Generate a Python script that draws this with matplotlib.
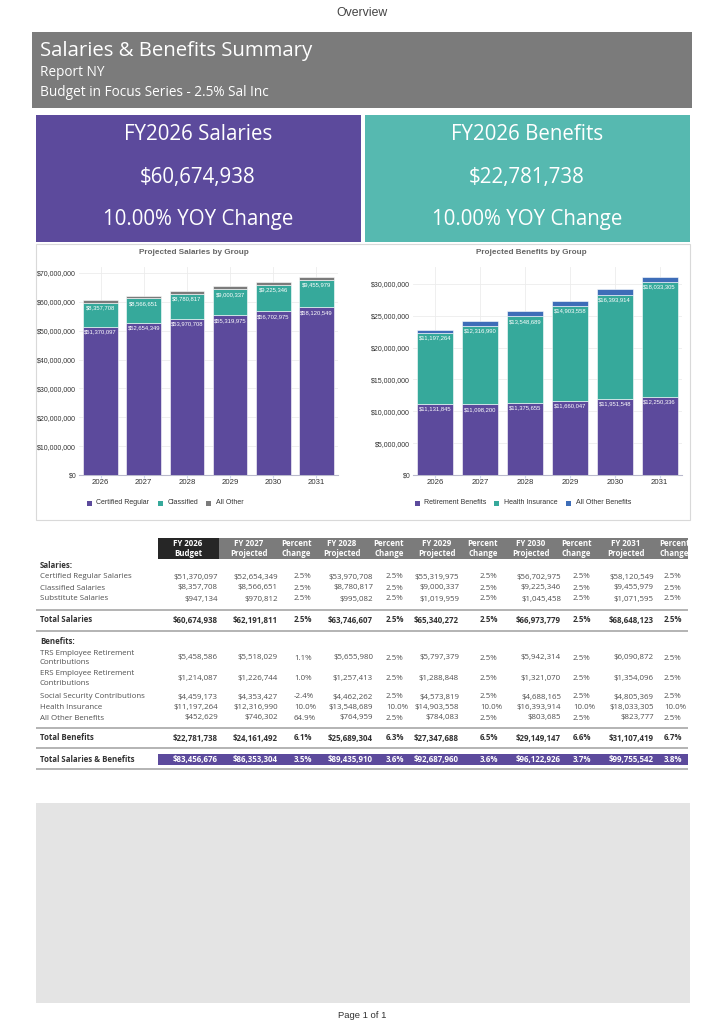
import matplotlib.pyplot as plt
from matplotlib.patches import Rectangle
from matplotlib.ticker import FuncFormatter

# ---- data ----
years = ['2026', '2027', '2028', '2029', '2030', '2031']

salary_groups = ['Certified Regular', 'Classified', 'All Other']
certified = [51370097, 52654349, 53970708, 55319975, 56702975, 58120549]
classified = [8357708, 8566651, 8780817, 9000337, 9225346, 9455979]
substitute = [947134, 970812, 995082, 1019959, 1045458, 1071595]

benefit_groups = ['Retirement Benefits', 'Health Insurance', 'All Other Benefits']
retirement = [11131845, 11098200, 11375655, 11660047, 11951548, 12250336]
health = [11197264, 12316990, 13548689, 14903558, 16393914, 18033305]
other_benefits = [452629, 746302, 764959, 784083, 803685, 823777]

trs = [5458586, 5518029, 5655980, 5797379, 5942314, 6090872]
ers = [1214087, 1226744, 1257413, 1288848, 1321070, 1354096]
social = [4459173, 4353427, 4462262, 4573819, 4688165, 4805369]

total_salaries = [60674938, 62191811, 63746607, 65340272, 66973779, 68648123]
total_benefits = [22781738, 24161492, 25689304, 27347688, 29149147, 31107419]
grand_total = [83456676, 86353304, 89435910, 92687960, 96122926, 99755542]

certified_pct = ['2.5%', '2.5%', '2.5%', '2.5%', '2.5%']
classified_pct = ['2.5%', '2.5%', '2.5%', '2.5%', '2.5%']
substitute_pct = ['2.5%', '2.5%', '2.5%', '2.5%', '2.5%']
total_sal_pct = ['2.5%', '2.5%', '2.5%', '2.5%', '2.5%']
trs_pct = ['1.1%', '2.5%', '2.5%', '2.5%', '2.5%']
ers_pct = ['1.0%', '2.5%', '2.5%', '2.5%', '2.5%']
social_pct = ['-2.4%', '2.5%', '2.5%', '2.5%', '2.5%']
health_pct = ['10.0%', '10.0%', '10.0%', '10.0%', '10.0%']
other_pct = ['64.9%', '2.5%', '2.5%', '2.5%', '2.5%']
total_ben_pct = ['6.1%', '6.3%', '6.5%', '6.6%', '6.7%']
grand_pct = ['3.5%', '3.6%', '3.6%', '3.7%', '3.8%']

col_headers = [('FY 2026', 'Budget'), ('FY 2027', 'Projected'), ('Percent', 'Change'),
               ('FY 2028', 'Projected'), ('Percent', 'Change'), ('FY 2029', 'Projected'),
               ('Percent', 'Change'), ('FY 2030', 'Projected'), ('Percent', 'Change'),
               ('FY 2031', 'Projected'), ('Percent', 'Change')]

# ---- colours ----
PURPLE = '#5c4a9c'
TEAL_BOX = '#56b9b0'
TEAL = '#36a99b'
GRAY = '#7b7b7b'
BLUE = '#3e6db8'

plt.rcParams['font.family'] = ['Open Sans', 'DejaVu Sans']
CHART_FONT = ['Liberation Sans', 'DejaVu Sans']

W, H = 724, 1024
fig = plt.figure(figsize=(7.24, 10.24), dpi=100)
bg = fig.add_axes([0, 0, 1, 1])
bg.set_xlim(0, W)
bg.set_ylim(H, 0)
bg.axis('off')


def box(x0, y0, x1, y1, color, **kw):
    bg.add_patch(Rectangle((x0, y0), x1 - x0, y1 - y0, facecolor=color,
                           edgecolor=kw.pop('edgecolor', 'none'), **kw))


def money(v):
    return f"${v:,}"


# ---- header ----
bg.text(362, 13, 'Overview', ha='center', va='center', fontsize=8.8, color='#444444',
        family=CHART_FONT)
box(32, 32, 692, 108, GRAY)
bg.text(40, 51, 'Salaries & Benefits Summary', fontsize=14.7, color='white', va='center')
bg.text(40, 73, 'Report NY', fontsize=9.8, color='white', va='center')
bg.text(40, 93, 'Budget in Focus Series - 2.5% Sal Inc', fontsize=9.8, color='white', va='center')

# ---- KPI boxes ----
box(36, 115, 361, 242, PURPLE)
box(365, 115, 690, 242, TEAL_BOX)
for cx, title, val in [(198, 'FY2026 Salaries', total_salaries[0]),
                       (527, 'FY2026 Benefits', total_benefits[0])]:
    bg.text(cx, 134, title, ha='center', va='center', fontsize=14.8, color='white')
    bg.text(cx, 177, money(val), ha='center', va='center', fontsize=14.8, color='white')
    bg.text(cx, 219, '10.00% YOY Change', ha='center', va='center', fontsize=14.8, color='white')

# ---- charts ----
box(36, 244, 690, 520, 'white', edgecolor='#d9d9d9', linewidth=0.8)


def chart_axes(x0, y0, x1, y1):
    return fig.add_axes([x0 / W, 1 - y1 / H, (x1 - x0) / W, (y1 - y0) / H])


def stacked_chart(ax, series, colors, labelled, ymax, step):
    x = list(range(len(years)))
    bottoms = [0] * len(years)
    for vals, col, lab in zip(series, colors, labelled):
        ax.bar(x, vals, width=0.8, bottom=bottoms, color=col, edgecolor='white',
               linewidth=0.4, zorder=3)
        tops = [b + v for b, v in zip(bottoms, vals)]
        if lab:
            for xi, t, v in zip(x, tops, vals):
                ax.annotate(money(v), (xi, t), xytext=(0, -3.6), textcoords='offset points',
                            ha='center', va='center', fontsize=4.2, color='white',
                            family=CHART_FONT, zorder=4)
        bottoms = tops
    ax.set_xlim(-0.5, len(years) - 0.5)
    ax.set_ylim(0, ymax)
    ax.set_yticks(range(0, int(ymax) + 1, step))
    ax.yaxis.set_major_formatter(FuncFormatter(lambda v, _: f"${v:,.0f}"))
    ax.set_xticks(x)
    ax.set_xticklabels(years, family=CHART_FONT)
    for lbl in ax.get_yticklabels():
        lbl.set_family(CHART_FONT)
    ax.tick_params(axis='y', length=0, labelsize=5.0, labelcolor='#333333', pad=2)
    ax.tick_params(axis='x', length=2, color='#ccd6eb', labelsize=5.6, labelcolor='#333333', pad=1)
    ax.grid(True, color='#ececec', linewidth=0.6, zorder=0)
    ax.set_axisbelow(True)
    for s in ['top', 'right', 'left']:
        ax.spines[s].set_visible(False)
    ax.spines['bottom'].set_color('#b9b9cc')
    ax.spines['bottom'].set_linewidth(0.8)


ax1 = chart_axes(79, 267, 338, 475)
stacked_chart(ax1, [certified, classified, substitute], [PURPLE, TEAL, GRAY],
              [True, True, False], 72.08e6, 10000000)
ax2 = chart_axes(413, 267, 682, 475)
stacked_chart(ax2, [retirement, health, other_benefits], [PURPLE, TEAL, BLUE],
              [True, True, False], 32.67e6, 5000000)

bg.text(194, 253, 'Projected Salaries by Group', ha='center', va='center', fontsize=5.9,
        fontweight='bold', color='#666666', family=CHART_FONT)
bg.text(531, 253, 'Projected Benefits by Group', ha='center', va='center', fontsize=5.9,
        fontweight='bold', color='#666666', family=CHART_FONT)

for xs, names, cols in [([87, 158, 206], salary_groups, [PURPLE, TEAL, GRAY]),
                        ([415, 494, 566], benefit_groups, [PURPLE, TEAL, BLUE])]:
    for x0, name, col in zip(xs, names, cols):
        box(x0, 500.5, x0 + 5, 505.5, col)
        bg.text(x0 + 9.5, 503, name, va='center', fontsize=5.0, color='#333333', family=CHART_FONT)

# ---- table ----
val_right = [218, 278, 373, 459, 561, 654]
pct_left = [294, 386, 480, 573, 664]
head_cx = [188, 249, 296, 342, 389, 437, 483, 531, 576, 626, 674]
TXT = '#505050'
FS = 5.7

box(158, 538, 219, 559, '#262626')
box(219, 538, 688, 559, GRAY)
head_clip = Rectangle((158, 538), 530, 21, transform=bg.transData)
for cx, (l1, l2) in zip(head_cx, col_headers):
    for yy, s in [(543.5, l1), (553, l2)]:
        t = bg.text(cx, yy, s, ha='center', va='center', fontsize=FS, color='white',
                    fontweight='bold')
        t.set_clip_path(head_clip)


def hline(y):
    bg.plot([36, 688], [y, y], color='#b3b3b3', linewidth=1.4, solid_capstyle='butt')


def table_row(y, label, vals, pcts, bold=False, color=TXT):
    fw = 'bold' if bold else 'normal'
    bg.text(40, y, label, va='center', fontsize=FS, color='#333333' if bold else TXT,
            fontweight=fw, linespacing=1.55)
    for xr, v in zip(val_right, vals):
        bg.text(xr, y, money(v), ha='right', va='center', fontsize=FS, color=color, fontweight=fw)
    for xl, p in zip(pct_left, pcts):
        bg.text(xl, y, p, ha='left', va='center', fontsize=FS, color=color, fontweight=fw)


bg.text(40, 566, 'Salaries:', va='center', fontsize=FS, color='#333333', fontweight='bold')
table_row(577, 'Certified Regular Salaries', certified, certified_pct)
table_row(588, 'Classified Salaries', classified, classified_pct)
table_row(599, 'Substitute Salaries', substitute, substitute_pct)
hline(610)
table_row(620, 'Total Salaries', total_salaries, total_sal_pct, bold=True, color='#333333')
hline(631)
bg.text(40, 642, 'Benefits:', va='center', fontsize=FS, color='#333333', fontweight='bold')
table_row(658, 'TRS Employee Retirement\nContributions', trs, trs_pct)
table_row(678.5, 'ERS Employee Retirement\nContributions', ers, ers_pct)
table_row(697, 'Social Security Contributions', social, social_pct)
table_row(707.5, 'Health Insurance', health, health_pct)
table_row(718, 'All Other Benefits', other_benefits, other_pct)
hline(728)
table_row(738, 'Total Benefits', total_benefits, total_ben_pct, bold=True, color='#333333')
hline(748)
box(158, 754, 688, 765, PURPLE)
table_row(759.5, 'Total Salaries & Benefits', grand_total, grand_pct, bold=True, color='white')
hline(769)

# ---- footer ----
box(36, 803, 690, 1003, '#e4e4e4')
bg.text(362, 1015, 'Page 1 of 1', ha='center', va='center', fontsize=6.8, color='#333333',
        family=CHART_FONT)

fig.savefig('out.png', dpi=100)
